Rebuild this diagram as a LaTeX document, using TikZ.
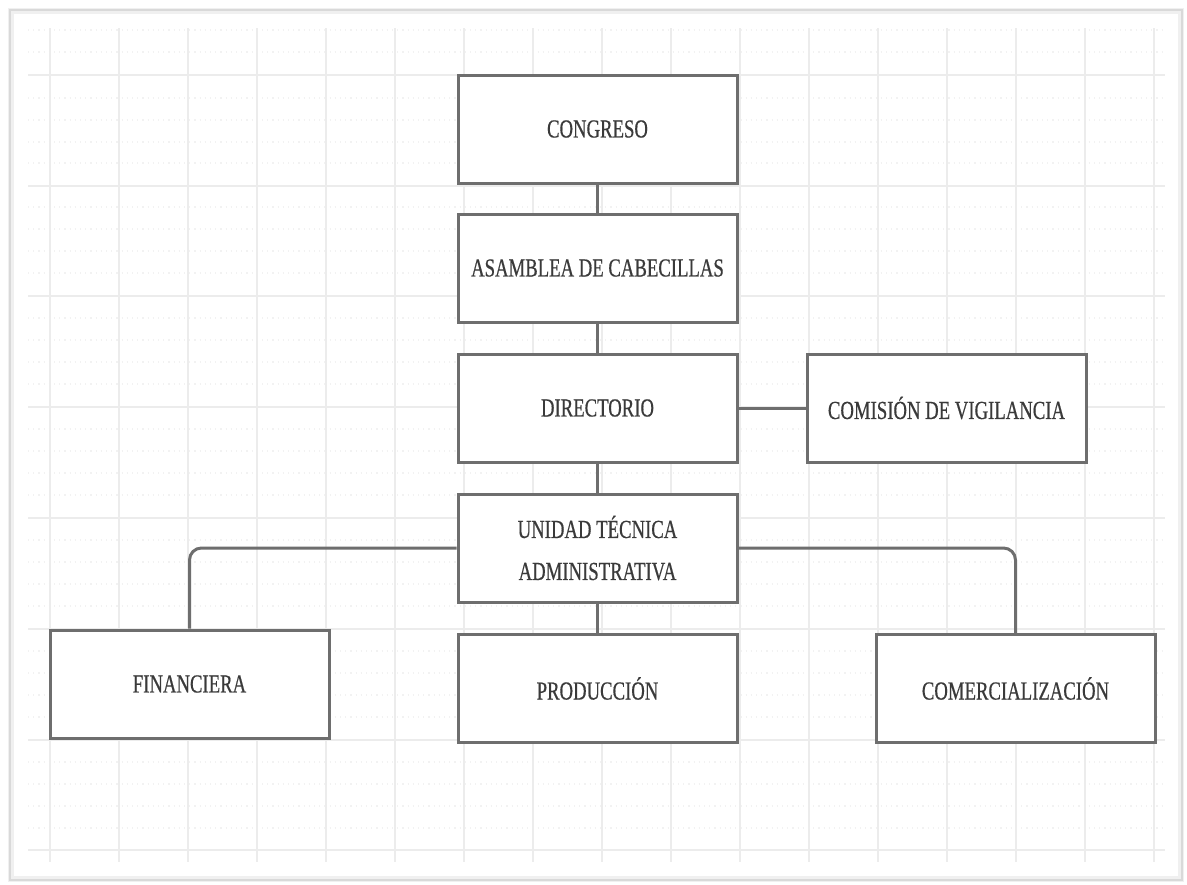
\documentclass[tikz,border=0pt]{standalone}
\usepackage{fontspec}
\newfontfamily\condfont[FakeStretch=0.72,FakeBold=0.5]{Liberation Serif}
\usepackage{tikz}
\usetikzlibrary{positioning}
\definecolor{boxline}{HTML}{6E6E6E}
\definecolor{boxtext}{HTML}{3A3A3A}
\definecolor{gridline}{HTML}{ECECEC}
\definecolor{gridminor}{HTML}{F2F2F2}

\begin{document}
\begin{tikzpicture}[x=0.5pt,y=-0.5pt]
                    \tikzstyle{unit}=[draw=boxline, line width=1.5pt, fill=white, rectangle,
                                      minimum width=139.5pt, minimum height=54pt, inner sep=0pt,
                                      text=boxtext, align=center,
                                      font=\condfont\fontsize{13}{21}\selectfont]
                    \tikzstyle{link}=[draw=boxline, line width=1.5pt]
                    \useasboundingbox (0,0) rectangle (1187,884);
                    % page and grid
                    \fill [white] (0,0) rectangle (1187,884);
                    \draw [gray!12, line width=3pt] (11,11) rectangle (1181,879);
                    \draw [gray!30, line width=1pt] (10,10) rectangle (1182,880);
                    \foreach \y in {30,52,98,120,142,163,207,229,251,273,318,340,362,384,
                                    429,451,473,495,540,562,584,606,651,673,695,717,
                                    762,784,806,828}
                        \draw [gridminor, line width=0.6pt, dotted] (28,\y) -- (1165,\y);
                    \foreach \y in {75,186,296,407,518,629,740,850}
                        \draw [gridline, line width=0.8pt] (28,\y) -- (1165,\y);
                    \foreach \x in {50,119,188,257,326,395,464,533,602,671,740,809,878,947,1016,1085,1154}
                        \draw [gridline, line width=0.8pt] (\x,28) -- (\x,862);
                    % units
                    \node [unit] (congreso) at (597.5,129) {CONGRESO};
                    \node [unit] (asamblea) at (597.5,268) {ASAMBLEA DE CABECILLAS};
                    \node [unit] (directorio) at (597.5,408) {DIRECTORIO};
                    \node [unit] (comision) at (946.5,408) {COMISIÓN DE VIGILANCIA};
                    \node [unit] (unidad) at (597.5,548) {UNIDAD TÉCNICA\\ADMINISTRATIVA};
                    \node [unit] (financiera) at (189.5,684) {FINANCIERA};
                    \node [unit] (produccion) at (597.5,688.5) {PRODUCCIÓN};
                    \node [unit] (comercial) at (1015.5,688.5) {COMERCIALIZACIÓN};
                    % links
                    \draw [link] (congreso) -- (asamblea);
                    \draw [link] (asamblea) -- (directorio);
                    \draw [link] (directorio) -- (comision);
                    \draw [link] (directorio) -- (unidad);
                    \draw [link] (unidad) -- (produccion);
                    \draw [link, rounded corners=6pt] (unidad.west) -| (financiera.north);
                    \draw [link, rounded corners=6pt] (unidad.east) -| (comercial.north);
\end{tikzpicture}
\end{document}
